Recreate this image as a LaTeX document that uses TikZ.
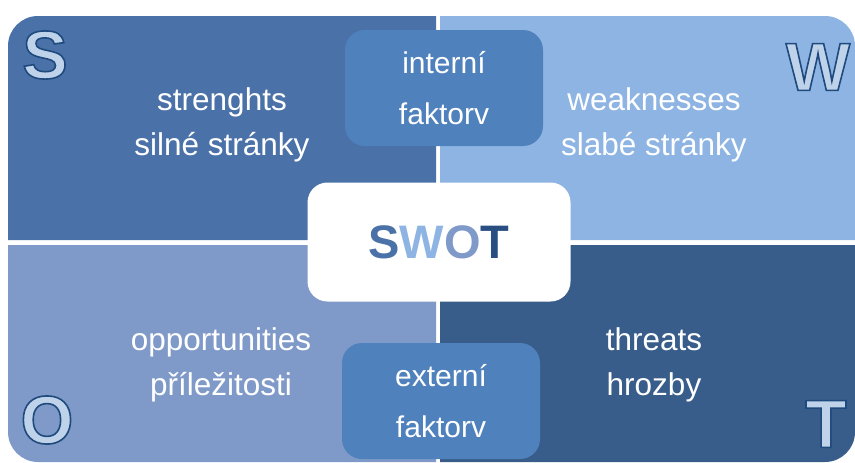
\documentclass[tikz,border=0pt]{standalone}
\usepackage{fontspec}
\setmainfont{Liberation Sans}
\usetikzlibrary{positioning}
\definecolor{tlblue}{RGB}{74,114,168}
\definecolor{trblue}{RGB}{141,180,226}
\definecolor{blblue}{RGB}{127,154,200}
\definecolor{brblue}{RGB}{56,93,138}
\definecolor{boxblue}{RGB}{79,129,189}
\definecolor{letterfill}{RGB}{190,210,234}
\definecolor{letterline}{RGB}{31,73,125}
\definecolor{tdark}{RGB}{40,78,130}
% outlined letter: fill colour from the node, stroke in letterline
\newcommand{\outlined}[1]{%
  \special{pdf:literal direct 2 Tr 1.6 w 0.12 0.29 0.49 RG}#1\special{pdf:literal direct 0 Tr}}

\begin{document}
\begin{tikzpicture}[
  x=1pt, y=-1pt,
  quadtxt/.style={text=white, align=center,
                  font=\fontsize{31.5}{45}\selectfont},
  factorbox/.style={rectangle, fill=boxblue, rounded corners=20pt,
                    minimum width=198pt, minimum height=116pt,
                    text=white, align=center,
                    font=\fontsize{30}{51}\selectfont},
  bigletter/.style={font=\fontsize{68}{68}\selectfont\bfseries,
                    text=letterfill},
]
\useasboundingbox (0,0) rectangle (855,463);

% Four quadrants, rounded only on the outer corner
\fill[tlblue] (8,240) [rounded corners=30pt] -- (8,16) [sharp corners] -- (436,16) -- (436,240) -- cycle;
\fill[trblue] (440,16) [rounded corners=30pt] -- (855,16) [sharp corners] -- (855,240) -- (440,240) -- cycle;
\fill[blblue] (436,245) -- (436,462) [rounded corners=30pt] -- (8,462) [sharp corners] -- (8,245) -- cycle;
\fill[brblue] (440,245) -- (855,245) [rounded corners=30pt] -- (855,462) [sharp corners] -- (440,462) -- cycle;

% Quadrant texts
\node[quadtxt] (strengths)     at (222,125) {strenghts\\silné stránky};
\node[quadtxt] (weaknesses)    at (654,125) {weaknesses\\slabé stránky};
\node[quadtxt] (opportunities) at (221,365) {opportunities\\příležitosti};
\node[quadtxt] (threats)       at (654,365) {threats\\hrozby};

% Corner letters
\node[bigletter] (sletter) at (45,55)  {\outlined{S}};
\node[bigletter] (wletter) at (818,67) {\outlined{W}};
\node[bigletter] (oletter) at (47,420) {\outlined{O}};
\node[bigletter] (tletter) at (826,424) {\outlined{T}};

% Factor boxes
\node[factorbox] (internal) at (444,88)  {interní\\faktorv};
\node[factorbox] (external) at (441,401) {externí\\faktorv};

% Centre box
\node[rectangle, fill=white, rounded corners=20pt,
      minimum width=263pt, minimum height=119pt,
      font=\fontsize{47}{47}\selectfont\bfseries] (swot) at (439,242)
  {\textcolor{tlblue}{S}\textcolor{trblue}{W}\textcolor{blblue}{O}\textcolor{tdark}{T}};
\end{tikzpicture}
\end{document}
